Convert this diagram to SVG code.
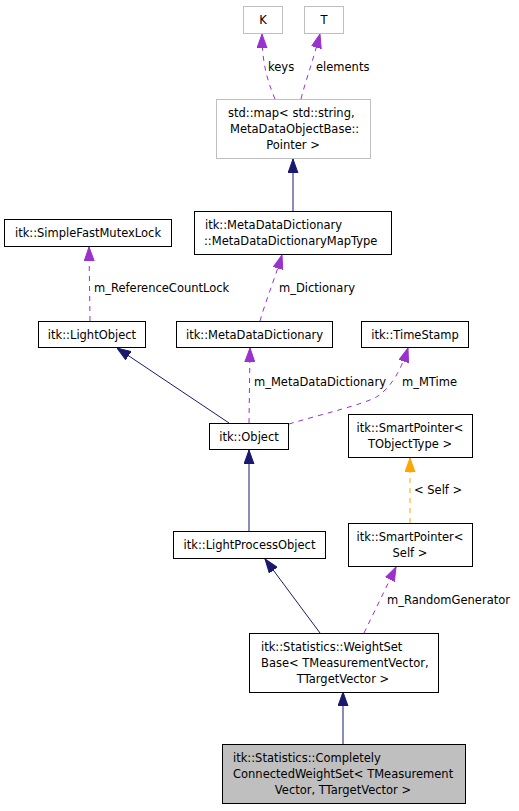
<svg xmlns="http://www.w3.org/2000/svg" width="519" height="811" viewBox="0 0 519 811">
<style>
text{font-family:"DejaVu Sans","Liberation Sans",sans-serif;font-size:11.5px;fill:#000}
.box{fill:#fff;stroke:#000;stroke-width:1}
.gbox{fill:#fff;stroke:#bfbfbf;stroke-width:1}
.cur{fill:#bfbfbf;stroke:#000;stroke-width:1}
.m{text-anchor:middle}
.inh{fill:none;stroke:#191970;stroke-width:1}
.use{fill:none;stroke:#9a32cd;stroke-width:1;stroke-dasharray:5,5}
.tpl{fill:none;stroke:#ffa500;stroke-width:1;stroke-dasharray:5,5}
</style>
<defs>
<marker id="aN" markerUnits="userSpaceOnUse" markerWidth="14" markerHeight="11" viewBox="0 0 14 11" refX="14" refY="5.5" orient="auto"><path d="M0,0.5 L14,5.5 L0,10.5 z" fill="#191970" stroke="#191970"/></marker>
<marker id="aP" markerUnits="userSpaceOnUse" markerWidth="14" markerHeight="11" viewBox="0 0 14 11" refX="14" refY="5.5" orient="auto"><path d="M0,0.5 L14,5.5 L0,10.5 z" fill="#9a32cd" stroke="#9a32cd"/></marker>
<marker id="aO" markerUnits="userSpaceOnUse" markerWidth="14" markerHeight="11" viewBox="0 0 14 11" refX="14" refY="5.5" orient="auto"><path d="M0,0.5 L14,5.5 L0,10.5 z" fill="#ffa500" stroke="#ffa500"/></marker>
</defs>
<g id="connectors">
<path class="use" d="M275,99 C267,80 262,62 262,34" marker-end="url(#aP)"/>
<text x="268" y="71">keys</text>
<path class="use" d="M301,99 C304,86 312,64 320,34" marker-end="url(#aP)"/>
<text x="316" y="71">elements</text>
<path class="inh" d="M293,211 L293,159" marker-end="url(#aN)"/>
<path class="use" d="M90,321 L89,247" marker-end="url(#aP)"/>
<text x="94" y="292">m_ReferenceCountLock</text>
<path class="use" d="M260,321 C266,300 276,275 282,255" marker-end="url(#aP)"/>
<text x="279" y="292">m_Dictionary</text>
<path class="inh" d="M229,423 L117,348" marker-end="url(#aN)"/>
<path class="use" d="M249,423 L250,348" marker-end="url(#aP)"/>
<text x="254" y="386">m_MetaDataDictionary</text>
<path class="use" d="M289,424 C322,414 366,404 378,396 C392,386 401,370 408,348" marker-end="url(#aP)"/>
<text x="402" y="386">m_MTime</text>
<path class="inh" d="M249,531 L249,450" marker-end="url(#aN)"/>
<path class="tpl" d="M410,523 L410,458" marker-end="url(#aO)"/>
<text x="414" y="494">&lt; Self &gt;</text>
<path class="inh" d="M320,633 L265,559" marker-end="url(#aN)"/>
<path class="use" d="M364,633 L396,567" marker-end="url(#aP)"/>
<text x="387" y="604">m_RandomGenerator</text>
<path class="inh" d="M343,744 L343,692" marker-end="url(#aN)"/>
</g>
<g id="K"><rect class="gbox" x="243.5" y="6.5" width="39" height="27"/><text class="m" x="263" y="24">K</text></g>
<g id="T"><rect class="gbox" x="304.5" y="6.5" width="39" height="27"/><text class="m" x="324" y="24">T</text></g>
<g id="stdmap"><rect class="gbox" x="216.5" y="99.5" width="154" height="59"/>
<text x="228" y="117">std::map&lt; std::string,</text>
<text x="230" y="133">MetaDataObjectBase::</text>
<text class="m" x="293" y="149">Pointer &gt;</text></g>
<g id="MapType"><rect class="box" x="194.5" y="211.5" width="197" height="43"/>
<text x="205" y="229">itk::MetaDataDictionary</text>
<text x="204" y="245">::MetaDataDictionaryMapType</text></g>
<g id="Mutex"><rect class="box" x="4.5" y="219.5" width="167" height="27"/><text class="m" x="88" y="237">itk::SimpleFastMutexLock</text></g>
<g id="LightObject"><rect class="box" x="38.5" y="321.5" width="107" height="26"/><text class="m" x="92" y="339">itk::LightObject</text></g>
<g id="MetaDataDictionary"><rect class="box" x="176.5" y="321.5" width="156" height="26"/><text class="m" x="254.5" y="339">itk::MetaDataDictionary</text></g>
<g id="TimeStamp"><rect class="box" x="361.5" y="321.5" width="107" height="26"/><text class="m" x="415" y="339">itk::TimeStamp</text></g>
<g id="Object"><rect class="box" x="209.5" y="423.5" width="79" height="26"/><text class="m" x="249" y="441">itk::Object</text></g>
<g id="SPTObjectType"><rect class="box" x="348.5" y="414.5" width="124" height="43"/>
<text class="m" x="410" y="432">itk::SmartPointer&lt;</text>
<text class="m" x="410" y="448">TObjectType &gt;</text></g>
<g id="LightProcessObject"><rect class="box" x="173.5" y="531.5" width="152" height="27"/><text class="m" x="249.5" y="549">itk::LightProcessObject</text></g>
<g id="SPSelf"><rect class="box" x="348.5" y="523.5" width="124" height="43"/>
<text class="m" x="410" y="541">itk::SmartPointer&lt;</text>
<text class="m" x="410" y="557">Self &gt;</text></g>
<g id="WeightSetBase"><rect class="box" x="249.5" y="633.5" width="189" height="59"/>
<text x="261" y="651">itk::Statistics::WeightSet</text>
<text x="261" y="667">Base&lt; TMeasurementVector,</text>
<text class="m" x="343" y="683">TTargetVector &gt;</text></g>
<g id="Completely"><rect class="cur" x="222.5" y="744.5" width="243" height="59"/>
<text x="233" y="762">itk::Statistics::Completely</text>
<text x="233" y="778">ConnectedWeightSet&lt; TMeasurement</text>
<text class="m" x="343" y="794">Vector, TTargetVector &gt;</text></g>
</svg>
